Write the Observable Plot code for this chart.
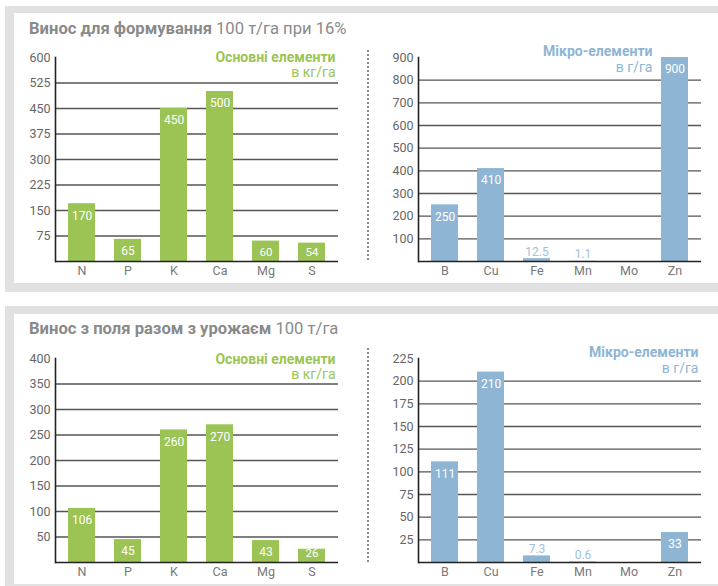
<!DOCTYPE html>
<html>
<head>
<meta charset="utf-8">
<script src="https://cdn.jsdelivr.net/npm/d3@7"></script>
<script src="https://cdn.jsdelivr.net/npm/@observablehq/plot@0.6"></script>
<style>
  body { margin: 0; background: #fff; font-family: Roboto, "Liberation Sans", sans-serif; }
  #root { position: relative; width: 718px; height: 586px; overflow: hidden; background: #fff; }
  .band { position: absolute; background: #e1e1e1; }
  .inner { position: absolute; background: #fff; }
  .title { position: absolute; left: 29px; color: #8a8a8a; font-size: 16.6px; white-space: nowrap; line-height: 1; }
  .title b { font-weight: 700; }
  .sep { position: absolute; width: 0; border-left: 2px dotted #8c8c8c; }
  .chart { position: absolute; }
</style>
</head>
<body>
<div id="root">
  <div class="band" style="left:5px;top:6px;width:730px;height:286px"></div>
  <div class="inner" style="left:14px;top:13px;width:720px;height:270px"></div>
  <div class="band" style="left:5px;top:306px;width:730px;height:290px"></div>
  <div class="inner" style="left:14px;top:314px;width:720px;height:270px"></div>

  <div class="title" style="top:21px"><b>Винос для формування</b> 100 т/га при 16%</div>
  <div class="title" style="top:321px"><b>Винос з поля разом з урожаєм</b> 100 т/га</div>

  <div class="sep" style="left:367px;top:50px;height:210px"></div>
  <div class="sep" style="left:367px;top:348px;height:214px"></div>

  <div class="chart" id="formation-macro" style="left:0;top:0"></div>
  <div class="chart" id="formation-micro" style="left:360px;top:0"></div>
  <div class="chart" id="removal-macro" style="left:0;top:300px"></div>
  <div class="chart" id="removal-micro" style="left:360px;top:300px"></div>
</div>
<script>
// Elements on the x axis
const macroElements = ["N", "P", "K", "Ca", "Mg", "S"];
const microElements = ["B", "Cu", "Fe", "Mn", "Mo", "Zn"];

// Removal needed to form a 100 t/ha crop at 16%
const macroFormation = [170, 65, 450, 500, 60, 54];      // kg/ha
const microFormation = [250, 410, 12.5, 1.1, null, 900]; // g/ha

// Removal from the field with a 100 t/ha harvest
const macroRemoval = [106, 45, 260, 270, 43, 26];        // kg/ha
const microRemoval = [111, 210, 7.3, 0.6, null, 33];     // g/ha

// Y-axis ticks (the last one is the top of each axis)
const macroFormationTicks = [75, 150, 225, 300, 375, 450, 525, 600];
const microFormationTicks = [100, 200, 300, 400, 500, 600, 700, 800, 900];
const macroRemovalTicks = [50, 100, 150, 200, 250, 300, 350, 400];
const microRemovalTicks = [25, 50, 75, 100, 125, 150, 175, 200, 225];

// Legend texts
const macroHeading = "Основні елементи";
const macroUnit = "в кг/га";
const microHeading = "Мікро-елементи";
const microUnit = "в г/га";

const GREEN = "#9bc455";
const BLUE = "#8eb5d4";
const FONT = "Roboto, 'Liberation Sans', sans-serif";

function barChart({elements, values, ticks, fill, labelFill, heading, unit, headingDx,
                   width, height, marginLeft, marginRight, marginTop, marginBottom,
                   headingDy, unitDy}) {
  const rows = elements.map((element, i) => ({element, value: values[i]}));
  const max = ticks[ticks.length - 1];
  const present = rows.filter(d => d.value != null);
  // value labels: inside tall bars, near the base of short bars, above tiny bars
  const tall = present.filter(d => d.value / max >= 0.103);
  const short = present.filter(d => d.value / max >= 0.05 && d.value / max < 0.103);
  const tiny = present.filter(d => d.value / max < 0.05);
  return Plot.plot({
    width, height, marginLeft, marginRight, marginTop, marginBottom,
    style: {fontFamily: FONT, background: "transparent", overflow: "visible"},
    x: {domain: elements, paddingInner: 0.413, paddingOuter: 0.283, round: false, label: null},
    y: {domain: [0, max], label: null},
    marks: [
      Plot.ruleY(ticks.slice(0, -1), {stroke: "#555", strokeWidth: 1.4}),
      Plot.barY(present, {x: "element", y: "value", fill}),
      Plot.ruleY([0], {stroke: "#222", strokeWidth: 1.6}),
      Plot.frame({anchor: "left", stroke: "#222", strokeWidth: 1.6}),
      Plot.axisY({ticks, tickSize: 0, tickPadding: 5, fontSize: 12.5, fill: "#666", label: null}),
      Plot.axisX({tickSize: 0, tickPadding: 5, fontSize: 12.5, fill: "#777", label: null}),
      Plot.text(tall, {x: "element", y: "value", text: d => String(d.value), dy: 12, fill: "white", fontSize: 12}),
      Plot.text(short, {x: "element", frameAnchor: "bottom", text: d => String(d.value), dy: -6, fill: "white", fontSize: 11.5}),
      Plot.text(tiny, {x: "element", y: "value", text: d => String(d.value), lineAnchor: "bottom", dy: -3, fill: labelFill, fontSize: 12}),
      Plot.text([heading], {frameAnchor: "top-right", text: d => d, lineAnchor: "bottom", dx: headingDx, dy: headingDy,
        fill, fontSize: 14, fontWeight: "bold"}),
      Plot.text([unit], {frameAnchor: "top-right", text: d => d, lineAnchor: "bottom", dx: headingDx, dy: unitDy,
        fill, fontSize: 14})
    ]
  });
}

document.getElementById("formation-macro").append(barChart({
  elements: macroElements, values: macroFormation, ticks: macroFormationTicks,
  fill: GREEN, labelFill: GREEN, heading: macroHeading, unit: macroUnit, headingDx: -3,
  headingDy: 4, unitDy: 19,
  width: 345, height: 290, marginLeft: 55, marginRight: 7, marginTop: 57, marginBottom: 29
}));
document.getElementById("formation-micro").append(barChart({
  elements: microElements, values: microFormation, ticks: microFormationTicks,
  fill: BLUE, labelFill: "#9fc1dd", heading: microHeading, unit: microUnit, headingDx: -49,
  headingDy: -2, unitDy: 14,
  width: 358, height: 290, marginLeft: 58, marginRight: 17, marginTop: 57, marginBottom: 29
}));
document.getElementById("removal-macro").append(barChart({
  elements: macroElements, values: macroRemoval, ticks: macroRemovalTicks,
  fill: GREEN, labelFill: GREEN, heading: macroHeading, unit: macroUnit, headingDx: -3,
  headingDy: 5, unitDy: 20,
  width: 345, height: 286, marginLeft: 55, marginRight: 7, marginTop: 58, marginBottom: 24
}));
document.getElementById("removal-micro").append(barChart({
  elements: microElements, values: microRemoval, ticks: microRemovalTicks,
  fill: BLUE, labelFill: "#9fc1dd", heading: microHeading, unit: microUnit, headingDx: -3,
  headingDy: -2, unitDy: 14,
  width: 358, height: 286, marginLeft: 58, marginRight: 17, marginTop: 58, marginBottom: 24
}));
</script>
</body>
</html>
